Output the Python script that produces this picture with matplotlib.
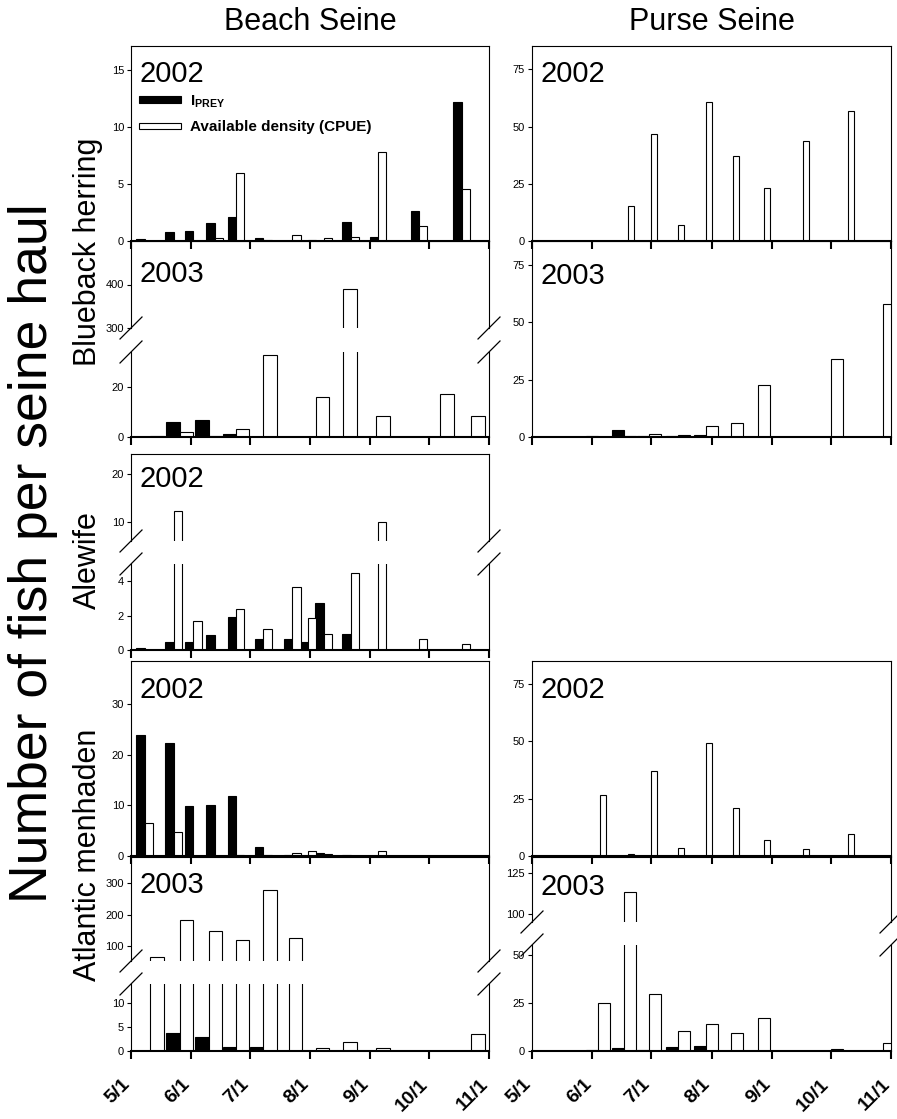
import datetime as dt
import numpy as np
import matplotlib
matplotlib.use('Agg')
from matplotlib import pyplot as plt
from matplotlib.lines import Line2D
from matplotlib.patches import Rectangle
from matplotlib.transforms import ScaledTranslation

plt.rcParams['font.family'] = ['Liberation Sans', 'DejaVu Sans']
plt.rcParams['mathtext.fontset'] = 'custom'
plt.rcParams['mathtext.rm'] = 'Liberation Sans'
plt.rcParams['mathtext.bf'] = 'Liberation Sans:bold'

W, H = 897, 1119

# sampling dates (month/day)
bs02_dates = ['5/8', '5/23', '6/2', '6/13', '6/24', '7/8', '7/23', '7/31', '8/8', '8/22', '9/5', '9/26', '10/18']
bs03_dates = ['5/11', '5/26', '6/10', '6/24', '7/8', '7/21', '8/4', '8/18', '9/4', '10/7', '10/23']
ps02_dates = ['6/5', '6/19', '7/1', '7/15', '7/29', '8/12', '8/28', '9/17', '10/10']
ps03_dates = ['6/4', '6/17', '6/30', '7/15', '7/29', '8/11', '8/25', '10/1', '10/28']

# blueback herring
bb_bs02_iprey = [0.2, 0.76, 0.88, 1.6, 2.1, 0.26, 0, 0, 0, 1.67, 0.38, 2.63, 12.2]
bb_bs02_cpue = [0, 0, 0, 0.26, 6.0, 0.12, 0.53, 0.06, 0.23, 0.38, 7.8, 1.29, 4.56]
bb_bs03_iprey = [0, 6.1, 6.9, 1.3, 0.2, 0, 0, 0, 0, 0, 0]
bb_bs03_cpue = [0.3, 2.0, 0.5, 3.2, 33, 0, 16.1, 390, 8.3, 17.3, 8.5]
bb_ps02_iprey = [0, 0, 0, 0, 0, 0, 0, 0, 0]
bb_ps02_cpue = [0, 15.4, 46.9, 6.8, 60.8, 37, 23.3, 43.5, 57]
bb_ps03_iprey = [0.5, 3.2, 0.3, 0.3, 0.9, 0.1, 0, 0, 0]
bb_ps03_cpue = [0, 0.3, 1.5, 0.9, 4.8, 6.1, 22.9, 33.9, 58]

# alewife
al_bs02_iprey = [0.1, 0.44, 0.48, 0.9, 1.92, 0.63, 0.65, 0.46, 2.72, 0.95, 0, 0, 0]
al_bs02_cpue = [0, 12.2, 1.68, 0, 2.38, 1.24, 3.68, 1.87, 0.95, 4.46, 10.0, 0.65, 0.32]

# atlantic menhaden
am_bs02_iprey = [23.8, 22.4, 9.8, 10.1, 11.8, 1.7, 0.1, 0, 0.5, 0.1, 0, 0, 0]
am_bs02_cpue = [6.6, 4.8, 0, 0, 0.2, 0.2, 0.5, 1.0, 0.3, 0, 1.0, 0, 0]
am_bs03_iprey = [0, 3.8, 2.9, 0.76, 0.83, 0.1, 0, 0, 0, 0, 0]
am_bs03_cpue = [66, 182, 147, 119, 278, 124, 0.7, 1.8, 0.7, 0, 3.6]
am_ps02_iprey = [0, 0, 0, 0, 0, 0, 0, 0, 0]
am_ps02_cpue = [26.5, 0.7, 37.1, 3.3, 49.2, 20.8, 6.8, 2.9, 9.6]
am_ps03_iprey = [0.3, 1.7, 0.5, 1.9, 2.8, 0.2, 0, 0, 0]
am_ps03_cpue = [24.7, 113.5, 29.5, 10.3, 14, 9.1, 16.9, 0.8, 4.3]

month_labels = ['5/1', '6/1', '7/1', '8/1', '9/1', '10/1', '11/1']


def to_days(lst):
    base = dt.date(2002, 5, 1)
    out = []
    for s in lst:
        m, d = s.split('/')
        out.append((dt.date(2002, int(m), int(d)) - base).days)
    return np.array(out, dtype=float)


XTICKS = to_days(month_labels)
fig = plt.figure(figsize=(W / 100, H / 100), dpi=100)


def add_ax(x0, y0, x1, y1):
    ax = fig.add_axes([x0 / W, 1 - y1 / H, (x1 - x0) / W, (y1 - y0) / H])
    ax.patch.set_alpha(0)
    return ax


def brk_mark(x, y):
    fig.add_artist(Line2D([(x - 11) / W, (x + 11) / W], [1 - (y + 11) / H, 1 - (y - 11) / H],
                          color='black', lw=0.9))


def style(ax, ylim, yticks, bottom=True, top=True, xlabels=False):
    ax.set_xlim(0, 184)
    ax.set_ylim(*ylim)
    ax.set_yticks(yticks)
    ax.tick_params(axis='y', direction='out', length=3, width=0.8, labelsize=8, pad=2)
    for s in ['left', 'right', 'top']:
        ax.spines[s].set_linewidth(0.8)
    ax.spines['bottom'].set_linewidth(1.5)
    ax.spines['top'].set_visible(top)
    ax.spines['bottom'].set_visible(bottom)
    if bottom:
        ax.set_xticks(XTICKS)
        ax.tick_params(axis='x', direction='out', length=6, width=1.5)
        if xlabels:
            ax.set_xticklabels(month_labels, rotation=45, ha='right', va='top',
                               rotation_mode='anchor', fontsize=14, fontweight='bold')
            ax.tick_params(axis='x', pad=12)
            off = ScaledTranslation(-7 / 72, 0, fig.dpi_scale_trans)
            for lab in ax.get_xticklabels():
                lab.set_transform(lab.get_transform() + off)
        else:
            ax.set_xticklabels([])
    else:
        ax.set_xticks([])


def bars(ax, dates, iprey, cpue, w):
    x = to_days(dates)
    ax.bar(x - w / 2, iprey, w, color='black', edgecolor='black', lw=0.8)
    ax.bar(x + w / 2, cpue, w, color='white', edgecolor='black', lw=0.8)


def panel(x0, y0, x1, y1, dates, iprey, cpue, w, ylim, yticks, year,
          brk=None, xlabels=False, ydrop=14):
    if brk is None:
        ax = add_ax(x0, y0, x1, y1)
        bars(ax, dates, iprey, cpue, w)
        style(ax, ylim, yticks, xlabels=xlabels)
        top_ax = ax
    else:
        gtop, gbot, uylim, uticks = brk
        top_ax = add_ax(x0, y0, x1, gtop)
        bars(top_ax, dates, iprey, cpue, w)
        style(top_ax, uylim, uticks, bottom=False)
        ax = add_ax(x0, gbot, x1, y1)
        bars(ax, dates, iprey, cpue, w)
        style(ax, ylim, yticks, top=False, xlabels=xlabels)
        for xx in (x0, x1):
            brk_mark(xx, gtop)
            brk_mark(xx, gbot)
    fig.text((x0 + 8) / W, 1 - (y0 + ydrop) / H, year, fontsize=21, ha='left', va='top')
    return top_ax


LX0, LX1 = 131, 489
RX0, RX1 = 532, 891

# beach seine
ax_leg = panel(LX0, 46, LX1, 241, bs02_dates, bb_bs02_iprey, bb_bs02_cpue, 4.3,
               (0, 17.1), [0, 5, 10, 15], '2002')
panel(LX0, 241, LX1, 437, bs03_dates, bb_bs03_iprey, bb_bs03_cpue, 6.9,
      (0, 34), [0, 20], '2003', brk=(328, 352, (300, 500), [300, 400]), ydrop=19)
panel(LX0, 454, LX1, 650, bs02_dates, al_bs02_iprey, al_bs02_cpue, 4.3,
      (0, 5.0), [0, 2, 4], '2002', brk=(541, 564, (6, 24.2), [10, 20]), ydrop=11)
panel(LX0, 661, LX1, 856, bs02_dates, am_bs02_iprey, am_bs02_cpue, 4.3,
      (0, 38.5), [0, 10, 20, 30], '2002', ydrop=15)
panel(LX0, 857, LX1, 1051, bs03_dates, am_bs03_iprey, am_bs03_cpue, 6.9,
      (0, 13.9), [0, 5, 10], '2003', brk=(961, 984, (52, 384), [100, 200, 300]),
      xlabels=True)

# purse seine
panel(RX0, 46, RX1, 241, ps02_dates, bb_ps02_iprey, bb_ps02_cpue, 3.1,
      (0, 85.2), [0, 25, 50, 75], '2002')
panel(RX0, 241, RX1, 437, ps03_dates, bb_ps03_iprey, bb_ps03_cpue, 6.15,
      (0, 85.5), [0, 25, 50, 75], '2003', ydrop=21)
panel(RX0, 661, RX1, 856, ps02_dates, am_ps02_iprey, am_ps02_cpue, 3.1,
      (0, 85), [0, 25, 50, 75], '2002', ydrop=15)
panel(RX0, 857, RX1, 1051, ps03_dates, am_ps03_iprey, am_ps03_cpue, 6.15,
      (0, 55), [0, 25, 50], '2003', brk=(922, 945, (95, 134.5), [100, 125]),
      xlabels=True, ydrop=16)

# legend
handles = [Rectangle((0, 0), 1, 1, fc='black', ec='black', lw=0.8),
           Rectangle((0, 0), 1, 1, fc='white', ec='black', lw=0.8)]
ax_leg.legend(handles, [r'$\mathbf{I}_{\mathbf{PREY}}$', 'Available density (CPUE)'],
              loc='upper left', bbox_to_anchor=(139 / W, 1 - 93 / H),
              bbox_transform=fig.transFigure, frameon=False, borderpad=0,
              borderaxespad=0, handlelength=2.75, handleheight=0.25,
              handletextpad=0.6, labelspacing=0.7,
              prop={'size': 11, 'weight': 'bold'})

# titles and labels
fig.text(310 / W, 1 - 22 / H, 'Beach Seine', fontsize=22, ha='center', va='center')
fig.text(712 / W, 1 - 22 / H, 'Purse Seine', fontsize=22, ha='center', va='center')
fig.text(88 / W, 1 - 252 / H, 'Blueback herring', fontsize=22, rotation=90,
         ha='center', va='center')
fig.text(88 / W, 1 - 560 / H, 'Alewife', fontsize=22, rotation=90, ha='center', va='center')
fig.text(88 / W, 1 - 855 / H, 'Atlantic menhaden', fontsize=22, rotation=90,
         ha='center', va='center')
fig.text(33 / W, 1 - 553 / H, 'Number of fish per seine haul', fontsize=38.5, rotation=90,
         ha='center', va='center')

fig.savefig('out.png', dpi=100)
